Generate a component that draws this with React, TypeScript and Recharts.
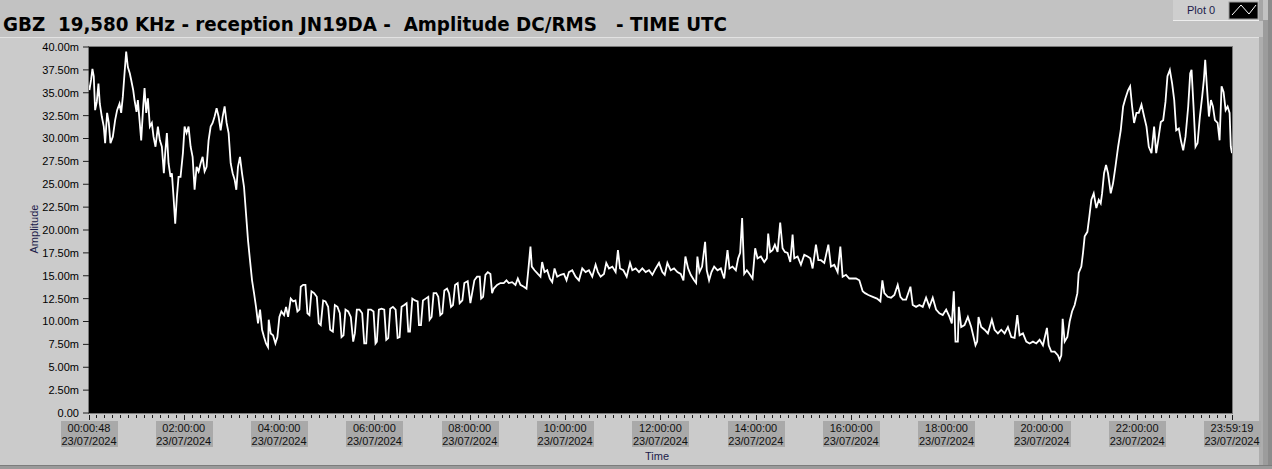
import React from 'react';
import { LineChart, Line, XAxis, YAxis, CartesianGrid } from 'recharts';

// time in minutes after 00:00 UTC, amplitude in mV
const timesA = [
  0.8, 1.3, 3.4, 5.1, 6.8, 8.5, 10.6, 12.7, 14.4, 16.9, 19.4,
  21.1, 23.6, 25.7, 27.8, 30.8, 33.7, 36.2, 39.2, 41.3, 43.4,
  45.5, 47.6, 49.7, 52.2, 53.9, 56.4, 58.1, 60.6, 62.3, 64.4,
  66.5, 69.0, 70.7, 72.8, 74.9, 77.4, 79.9, 82.0, 84.5, 87.5,
  90.0, 92.5, 95.0, 96.7, 98.8, 100.9, 103.4, 105.1, 107.2, 109.3,
  111.4, 113.5, 116.0, 119.0, 121.1, 123.6, 126.1, 128.7, 131.2, 133.7,
  136.2, 138.7, 141.3, 143.8, 146.3, 148.8, 151.3, 153.9, 156.4, 158.9,
  161.4, 163.9, 166.5, 169.0, 171.5, 174.0, 176.5, 179.1, 181.6, 184.1,
  186.2, 188.3, 190.8, 193.4, 195.9, 198.4, 200.9, 203.4, 206.0, 208.5,
  211.0, 213.5, 216.1, 218.6, 221.1, 223.6, 226.1, 227.0, 229.5, 232.4,
  235.4, 237.9, 240.4, 242.9, 246.3, 248.8, 251.4, 254.7, 257.7, 260.6,
  263.1, 265.6, 267.3, 270.3, 273.2, 275.7, 278.2, 280.8, 284.1, 287.5,
  290.0, 292.5, 295.5, 298.4, 301.8, 304.3, 307.7, 310.2, 313.5, 316.5,
  318.6, 321.1, 323.6, 327.0, 330.3, 333.3, 335.4, 337.9, 341.3, 344.6,
  347.2, 349.7, 352.2, 355.6, 358.9, 361.4, 363.1, 365.6, 369.0, 372.4,
  374.9, 377.4, 379.9, 383.3, 386.7, 389.2, 391.7, 394.2, 397.6, 400.5,
  402.6, 404.7, 407.7, 411.0, 414.4, 416.1, 418.6, 421.1, 424.5, 427.8,
  429.5, 432.0, 434.5, 437.9, 440.4, 442.9, 445.5, 448.0, 451.4, 453.9,
  456.4, 458.9, 461.5, 464.8, 467.3, 470.7, 473.2, 477.4,
];
const ampA = [
  35.8, 35.3, 36.4, 37.6, 36.8, 33.1, 34.0, 36.0, 33.8, 32.4, 31.3,
  29.5, 32.8, 31.7, 29.5, 30.2, 32.0, 33.1, 33.8, 32.8, 34.6,
  37.1, 39.5, 37.8, 37.1, 36.4, 35.3, 34.2, 32.9, 34.2, 32.0,
  29.8, 33.5, 35.5, 32.8, 34.4, 31.3, 31.7, 30.2, 29.1, 31.3,
  29.8, 29.1, 26.2, 28.4, 30.6, 27.3, 25.8, 26.2, 23.6, 20.7,
  23.6, 25.8, 25.8, 28.4, 31.3, 30.6, 31.3, 29.1, 28.0, 24.4,
  26.9, 26.4, 27.3, 28.0, 26.4, 26.9, 29.8, 31.3, 31.7, 32.4,
  33.3, 32.4, 30.9, 32.4, 33.5, 31.7, 30.6, 27.3, 26.2, 25.5,
  24.4, 26.9, 28.0, 26.2, 24.7, 21.8, 18.9, 16.7, 14.5, 13.1,
  11.6, 9.8, 11.3, 9.1, 8.3, 7.6, 7.2, 10.2, 8.7, 8.5,
  7.6, 8.3, 10.5, 11.1, 10.7, 11.6, 10.5, 12.5, 12.2, 12.3,
  11.1, 11.3, 13.8, 14.0, 14.0, 10.9, 10.7, 13.3, 13.1, 12.7,
  9.8, 9.6, 12.3, 12.2, 11.6, 9.1, 8.9, 11.8, 11.6, 10.9,
  8.3, 8.5, 11.3, 11.1, 10.5, 7.8, 8.7, 11.3, 11.3, 10.9,
  7.6, 7.6, 11.3, 11.3, 11.1, 7.6, 7.8, 11.3, 11.4, 11.3,
  8.0, 8.2, 11.4, 11.6, 11.3, 8.2, 8.3, 11.6, 11.8, 12.0,
  8.9, 8.9, 12.5, 12.3, 12.2, 9.6, 9.6, 12.3, 12.5, 12.7,
  10.2, 10.5, 13.1, 13.1, 12.7, 10.7, 10.9, 13.4, 13.6, 13.1,
  11.6, 11.8, 14.0, 14.2, 12.0, 12.3, 14.2, 14.4,
];

const timesB = [
  480.8, 485.8, 489.2, 492.6, 494.3, 496.8, 499.7, 502.7, 506.0, 508.1,
  510.2, 514.4, 518.6, 522.8, 526.2, 529.1, 533.3, 537.5, 540.5, 543.8,
  548.0, 551.4, 553.9, 556.4, 558.1, 561.5, 565.7, 569.0, 571.1, 574.1,
  577.5, 580.8, 583.8, 586.7, 590.1, 594.3, 598.5, 601.8, 604.8, 609.0,
  613.2, 617.4, 621.6, 625.8, 630.0, 634.2, 638.4, 641.3, 644.7, 648.9,
  651.8, 655.2, 659.4, 663.6, 666.5, 669.1, 673.3, 677.5, 681.7, 684.6,
  688.8, 693.0, 697.2, 701.4, 705.6, 709.8, 714.0, 718.2, 722.4, 725.4,
  728.7, 732.9, 737.1, 741.3, 745.5, 748.9, 751.4, 754.8, 758.1, 762.3,
  764.9, 766.5, 769.1, 772.4, 776.2, 778.3, 781.2, 784.2, 787.6, 791.8,
  796.0, 800.2, 804.4, 806.9, 810.7, 814.9, 817.8, 820.3, 822.8, 825.4,
  828.7, 832.1, 835.9, 839.2, 842.2, 846.4, 850.6, 853.9, 855.6, 858.1,
  861.1, 864.0, 867.4, 870.7, 873.7, 876.6, 880.0, 883.4, 886.3, 888.4,
  892.6, 896.8, 901.0, 905.2, 908.6, 911.5, 915.7, 918.7, 922.0, 926.2,
  931.3, 934.6, 938.8, 943.0, 946.4, 949.3, 953.5, 957.7, 961.9, 966.1,
  970.3, 974.5, 977.5, 981.7, 987.2, 992.6, 996.8,
];
const ampB = [
  12.0, 14.5, 14.9, 14.9, 12.5, 12.7, 15.1, 15.4, 15.2, 13.1,
  13.6, 14.0, 14.2, 14.2, 14.5, 14.2, 14.3, 14.0, 14.7, 14.0,
  13.8, 13.6, 15.8, 18.2, 16.0, 15.6, 15.2, 14.9, 16.5, 15.4,
  15.6, 14.7, 14.3, 15.8, 14.9, 15.1, 15.2, 14.5, 15.4, 15.6,
  14.9, 14.5, 15.8, 15.4, 15.6, 14.9, 16.2, 15.4, 14.9, 15.2,
  16.4, 15.8, 16.0, 15.4, 17.8, 15.8, 15.6, 14.9, 16.4, 15.6,
  15.8, 15.4, 15.8, 15.4, 15.6, 15.1, 15.8, 16.4, 15.4, 15.1,
  16.4, 15.6, 15.8, 15.4, 15.2, 14.5, 17.1, 15.8, 15.1, 14.5,
  14.2, 17.1, 15.4, 16.0, 18.7, 15.6, 14.5, 15.4, 16.0, 15.6,
  15.8, 14.7, 17.8, 15.8, 16.0, 15.6, 16.9, 17.5, 21.3, 15.2,
  15.6, 15.2, 14.7, 18.0, 16.9, 17.1, 16.5, 16.9, 19.6, 17.6,
  17.8, 18.4, 17.6, 20.8, 18.0, 17.6, 17.5, 16.5, 19.5, 16.9,
  17.1, 16.2, 17.3, 17.1, 16.9, 15.8, 18.4, 16.7, 16.7, 16.4,
  18.4, 16.0, 16.2, 15.4, 18.2, 14.9, 15.1, 14.7, 14.7, 14.7,
  14.5, 13.3, 13.1, 12.9, 12.7, 12.5, 12.2,
];

const timesC = [
  999.3, 1001.8, 1006.0, 1010.2, 1014.4, 1018.6, 1022.0, 1024.9, 1029.1, 1034.6,
  1037.5, 1041.7, 1045.9, 1050.1, 1054.3, 1058.5, 1062.7, 1066.9, 1071.1, 1075.3,
  1079.6, 1083.8, 1086.7, 1089.2, 1091.3, 1094.3, 1095.5, 1098.5, 1102.7, 1106.9,
  1111.1, 1116.5, 1118.6, 1120.3, 1123.7, 1127.9, 1132.1, 1137.1, 1140.5, 1144.7,
  1148.9, 1153.1, 1157.3, 1161.5, 1165.7, 1169.1, 1172.0, 1176.2, 1180.4, 1184.6,
  1188.8, 1193.0, 1197.2, 1201.4, 1206.4, 1208.6, 1211.9, 1216.1, 1220.3, 1222.4,
  1224.5, 1226.2, 1228.7, 1232.1, 1235.0, 1238.0, 1241.3, 1244.7, 1246.4, 1249.7,
  1251.8, 1253.9, 1257.3, 1259.8, 1262.3, 1265.3, 1268.6, 1271.6, 1274.1, 1275.8,
  1278.3, 1280.8, 1283.3, 1286.7, 1289.6, 1292.6, 1296.0, 1299.3, 1302.3, 1305.2,
  1308.6, 1311.1, 1313.6, 1316.1, 1319.1, 1322.0, 1325.4, 1328.7, 1331.7, 1334.6,
  1338.0, 1341.3, 1343.9, 1346.4, 1349.7, 1352.7, 1355.6, 1358.1, 1361.1, 1364.0,
  1366.6, 1369.1, 1372.4, 1375.0, 1377.9, 1380.8, 1384.2, 1386.7, 1388.4, 1390.9,
  1393.4, 1396.0, 1398.9, 1401.8, 1403.9, 1405.6, 1407.7, 1410.3, 1412.8, 1415.3,
  1417.8, 1421.2, 1423.7, 1426.2, 1428.7, 1431.3, 1433.8, 1436.3, 1437.8, 1439.3,
];
const ampC = [
  14.5, 13.1, 12.7, 12.6, 12.9, 14.0, 12.7, 12.4, 12.4, 13.8,
  11.8, 11.6, 11.8, 11.6, 12.6, 11.6, 12.6, 11.3, 10.9, 10.7,
  11.3, 10.5, 9.8, 13.3, 7.8, 7.8, 11.6, 9.4, 9.6, 10.5,
  9.4, 7.4, 7.8, 10.5, 9.4, 9.1, 8.7, 10.2, 9.1, 8.7,
  9.1, 8.7, 9.4, 8.3, 8.2, 10.7, 8.5, 8.7, 7.8, 7.6,
  7.8, 7.6, 8.0, 7.4, 9.3, 7.4, 6.7, 6.7, 6.3, 5.8,
  6.3, 10.3, 7.8, 8.3, 10.0, 11.1, 11.8, 13.1, 15.3, 16.0,
  17.5, 19.3, 19.8, 21.5, 23.3, 24.0, 22.4, 23.3, 22.9, 24.0,
  26.2, 27.1, 26.2, 24.0, 25.1, 26.9, 29.1, 30.9, 33.5, 34.4,
  35.3, 35.7, 33.5, 31.7, 32.8, 32.8, 33.7, 32.4, 31.3, 29.1,
  28.4, 31.3, 28.4, 29.8, 31.8, 32.0, 34.0, 36.8, 37.5, 36.0,
  34.2, 30.9, 31.1, 29.8, 28.7, 30.2, 33.5, 37.1, 37.5, 33.5,
  29.1, 29.5, 32.4, 34.6, 36.4, 38.6, 35.7, 32.4, 34.2, 33.5,
  32.0, 31.7, 29.8, 35.7, 35.1, 33.1, 33.5, 32.8, 29.1, 28.4,
];

const yTicks = [0, 2.5, 5, 7.5, 10, 12.5, 15, 17.5, 20, 22.5, 25, 27.5, 30, 32.5, 35, 37.5, 40];
const labelTicks = [0.8, 120, 240, 360, 480, 600, 720, 840, 960, 1080, 1200, 1320, 1439 + 19 / 60];
const dateText = '23/07/2024';
const titleText = 'GBZ  19,580 KHz - reception JN19DA -  Amplitude DC/RMS   - TIME UTC';

const minorTicks = Array.from({ length: 143 }, (_, i) => (i + 1) * 10).filter((m) => m % 120 !== 0);
const allTicks = [...labelTicks, ...minorTicks].sort((a, b) => a - b);

const data = [
  ...timesA.map((t, i) => ({ t, v: ampA[i] })),
  ...timesB.map((t, i) => ({ t, v: ampB[i] })),
  ...timesC.map((t, i) => ({ t, v: ampC[i] })),
];

const FONT = '"Liberation Sans", Arial, sans-serif';

const clock = (m: number) => {
  const s = Math.round(m * 60);
  const p = (n: number) => String(n).padStart(2, '0');
  return `${p(Math.floor(s / 3600))}:${p(Math.floor((s % 3600) / 60))}:${p(s % 60)}`;
};

const TimeTick = (props: any) => {
  const { x, y, payload } = props;
  const cx = Math.round(x) + 0.5;
  const major = labelTicks.includes(payload.value);
  if (!major) {
    return <line x1={cx} x2={cx} y1={y + 2} y2={y + 5} stroke="#1e1e1e" />;
  }
  return (
    <g>
      <line x1={cx} x2={cx} y1={y + 2} y2={y + 7} stroke="#1e1e1e" />
      <rect x={Math.round(x) - 28} y={y + 8} width={57} height={26} fill="#a9a9a9" />
      <text x={x} y={y + 19} textAnchor="middle" fontSize={11} fontFamily={FONT} fill="#101010">
        {clock(payload.value)}
      </text>
      <text x={x} y={y + 32} textAnchor="middle" fontSize={11} fontFamily={FONT} fill="#101010">
        {dateText}
      </text>
    </g>
  );
};

export default function App() {
  return (
    <div style={{ position: 'relative', width: 1272, height: 469, background: '#cbcbcb', overflow: 'hidden' }}>
      <style>{'body{margin:0}'}</style>
      <svg width={1272} height={469} style={{ position: 'absolute', left: 0, top: 0 }}>
        <rect x={0} y={0} width={1272} height={37} fill="#c2c2c2" />
        <rect x={0} y={37} width={1259} height={1} fill="#e2e2e2" />
        <rect x={1259} y={37} width={4} height={432} fill="#adadad" />
        <rect x={1263} y={20} width={5} height={449} fill="#9c9c9c" />
        <rect x={1268} y={0} width={4} height={469} fill="#8c8c8c" />
        <rect x={0} y={465} width={1272} height={4} fill="#9a9a9a" />
        <rect x={0} y={465} width={1272} height={1} fill="#7c7c7c" />
        {/* legend */}
        <rect x={1173} y={0} width={87} height={20} fill="#cecece" />
        <rect x={1173} y={20} width={87} height={1} fill="#eeeeee" />
        <rect x={1259} y={0} width={4} height={21} fill="#a6a6a6" />
        <rect x={1229} y={2} width={29} height={17} fill="#000" stroke="#9a9a9a" />
        <polyline points="1232,15 1241,5 1249,14 1256,5" fill="none" stroke="#fff" strokeWidth={1} />
        <text x={1187} y={14} fontSize={11} fontFamily={FONT} fill="#1b1b4a">Plot 0</text>
        {/* plot frame */}
        <rect x={88} y={46} width={1145} height={368} fill="#7a7a7a" />
        <text
          x={3}
          y={30.5}
          fontSize={19}
          fontWeight="bold"
          fontFamily='"DejaVu Sans", sans-serif'
          fill="#000"
          textLength={724}
          lengthAdjust="spacingAndGlyphs"
          style={{ whiteSpace: 'pre' }}
          xmlSpace="preserve"
        >
          {titleText}
        </text>
        <text x={657} y={460} textAnchor="middle" fontSize={11} fontFamily={FONT} fill="#1b1b4a">Time</text>
        <text x={37.5} y={229} textAnchor="middle" fontSize={11} fontFamily={FONT} fill="#1b1b4a" transform="rotate(-90 37.5 229)">
          Amplitude
        </text>
      </svg>
      <div style={{ position: 'absolute', left: 0, top: 0 }}>
        <LineChart width={1272} height={469} data={data} margin={{ top: 47, right: 40, bottom: 0, left: 8 }}>
          <CartesianGrid fill="#000" horizontal={false} vertical={false} />
          <XAxis
            dataKey="t"
            type="number"
            domain={[labelTicks[0], labelTicks[labelTicks.length - 1]]}
            ticks={allTicks}
            interval={0}
            height={56}
            axisLine={false}
            tickLine={false}
            tickSize={0}
            tickMargin={0}
            tick={<TimeTick />}
            allowDataOverflow
          />
          <YAxis
            type="number"
            domain={[0, 40]}
            ticks={yTicks}
            interval={0}
            width={81}
            axisLine={false}
            tickSize={6}
            tickMargin={4}
            tickLine={{ stroke: '#1e1e1e' }}
            tick={{ fill: '#000', fontSize: 11, fontFamily: FONT }}
            tickFormatter={(v: number) => (v === 0 ? '0.00' : `${v.toFixed(2)}m`)}
          />
          <Line
            type="linear"
            dataKey="v"
            stroke="#ffffff"
            strokeWidth={1.8}
            dot={false}
            isAnimationActive={false}
          />
        </LineChart>
      </div>
    </div>
  );
}
